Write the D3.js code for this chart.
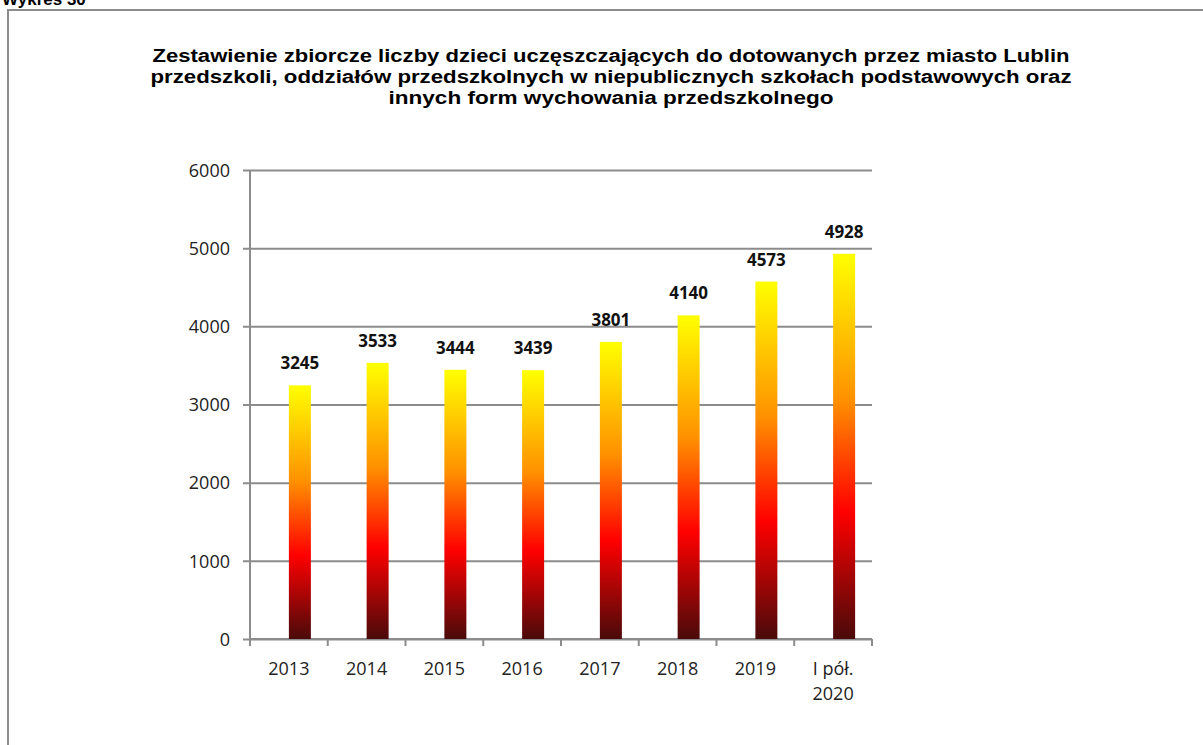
<!DOCTYPE html>
<html>
<head>
<meta charset="utf-8">
<script src="https://cdn.jsdelivr.net/npm/d3@7"></script>
<style>
  html, body { margin: 0; padding: 0; background: #fff; }
  svg { display: block; }
</style>
</head>
<body>
<svg id="chart" width="1203" height="745"></svg>
<script>
// Liczba dzieci w dotowanych przedszkolach i innych formach wychowania przedszkolnego
const categories = ["2013", "2014", "2015", "2016", "2017", "2018", "2019", "I pół.\n2020"];
const values = [3245, 3533, 3444, 3439, 3801, 4140, 4573, 4928];
const yTicks = [0, 1000, 2000, 3000, 4000, 5000, 6000];
const titleLines = [
  "Zestawienie zbiorcze liczby dzieci uczęszczających do dotowanych przez miasto Lublin",
  "przedszkoli, oddziałów przedszkolnych w niepublicznych szkołach podstawowych oraz",
  "innych form wychowania  przedszkolnego"
];

const svg = d3.select("#chart");
const gridColor = "#8c8c8c";
const tickFont = "'Open Sans', 'DejaVu Sans', sans-serif";

// Heading above the frame (runs past the top edge)
svg.append("text")
  .attr("x", 2).attr("y", 5)
  .attr("font-family", "Liberation Sans, Arial, sans-serif")
  .attr("font-weight", "bold").attr("font-size", 17)
  .attr("fill", "#000")
  .text("Wykres 30");

// Frame
svg.append("rect")
  .attr("x", 8).attr("y", 10)
  .attr("width", 1200).attr("height", 740)
  .attr("fill", "none").attr("stroke", gridColor).attr("stroke-width", 2);

// Title
const titleY = [56, 77, 98];
const titleWidths = [917, 921, 445];
titleLines.forEach((t, i) => {
  svg.append("text")
    .attr("x", 611).attr("y", titleY[i] + 6)
    .attr("text-anchor", "middle")
    .attr("font-family", "Liberation Sans Narrow, Liberation Sans, Arial, sans-serif")
    .attr("font-weight", "bold").attr("font-size", 18)
    .attr("textLength", titleWidths[i])
    .attr("lengthAdjust", "spacingAndGlyphs")
    .attr("fill", "#000")
    .text(t);
});

// Plot area
const plot = { left: 250, right: 872, top: 170, bottom: 639 };

const x = d3.scaleBand()
  .domain(categories)
  .range([plot.left, plot.right])
  .paddingInner(0).paddingOuter(0);

const y = d3.scaleLinear()
  .domain([0, 6000])
  .range([plot.bottom, plot.top]);

// Bar gradient: dark red at the base through red and orange to yellow
const defs = svg.append("defs");
const grad = defs.append("linearGradient")
  .attr("id", "barFill")
  .attr("x1", 0).attr("y1", 1).attr("x2", 0).attr("y2", 0);
[
  [0, "#4a0a0a"],
  [0.33, "#ff0000"],
  [0.62, "#ff9000"],
  [1, "#ffff00"]
].forEach(([o, c]) => grad.append("stop").attr("offset", o).attr("stop-color", c));

// Horizontal gridlines with left ticks
const yAxis = d3.axisLeft(y)
  .tickValues(yTicks)
  .tickSize(-(plot.right - plot.left))
  .tickSizeOuter(0)
  .tickPadding(20)
  .tickFormat(d3.format("d"));

const gy = svg.append("g")
  .attr("transform", `translate(${plot.left},0)`)
  .call(yAxis)
  .attr("font-size", null).attr("font-family", null);
gy.select(".domain").remove();
gy.selectAll(".tick line")
  .attr("x1", -7)
  .attr("stroke", gridColor).attr("stroke-width", 2);
gy.selectAll(".tick text")
  .attr("font-family", tickFont).attr("font-size", 18)
  .attr("fill", "#222")
  .attr("dy", "0.35em");

// Vertical axis line
svg.append("line")
  .attr("x1", plot.left).attr("x2", plot.left)
  .attr("y1", plot.top).attr("y2", plot.bottom)
  .attr("stroke", gridColor).attr("stroke-width", 2);

// Category axis with ticks at category boundaries
const gx = svg.append("g")
  .attr("transform", `translate(0,${plot.bottom})`);
gx.append("line")
  .attr("x1", plot.left).attr("x2", plot.right)
  .attr("stroke", gridColor).attr("stroke-width", 2);
const bounds = categories.map(c => x(c)).concat([plot.right]);
gx.selectAll("line.tk").data(bounds).join("line")
  .attr("class", "tk")
  .attr("x1", d => d).attr("x2", d => d)
  .attr("y1", 0).attr("y2", 7)
  .attr("stroke", gridColor).attr("stroke-width", 2);
gx.selectAll("text.cat").data(categories).join("text")
  .attr("class", "cat")
  .attr("text-anchor", "middle")
  .attr("font-family", tickFont).attr("font-size", 18)
  .attr("fill", "#222")
  .each(function (d) {
    const t = d3.select(this);
    d.split("\n").forEach((line, i) => {
      t.append("tspan")
        .attr("x", x(d) + x.bandwidth() / 2)
        .attr("y", 36 + i * 25)
        .text(line);
    });
  });

// Bars: each sits from the category centre to the right
const barW = 22;
const barX = d => x(d) + x.bandwidth() / 2;
const data = categories.map((c, i) => ({ c, v: values[i] }));

svg.append("g").selectAll("rect").data(data).join("rect")
  .attr("x", d => barX(d.c))
  .attr("y", d => y(d.v))
  .attr("width", barW)
  .attr("height", d => y(0) - y(d.v))
  .attr("fill", "url(#barFill)");

// Value labels
svg.append("g").selectAll("text").data(data).join("text")
  .attr("x", d => barX(d.c) + barW / 2)
  .attr("y", d => y(d.v) - 16)
  .attr("text-anchor", "middle")
  .attr("font-family", tickFont).attr("font-weight", "bold").attr("font-size", 17)
  .attr("fill", "#111")
  .text(d => d.v);
</script>
</body>
</html>
